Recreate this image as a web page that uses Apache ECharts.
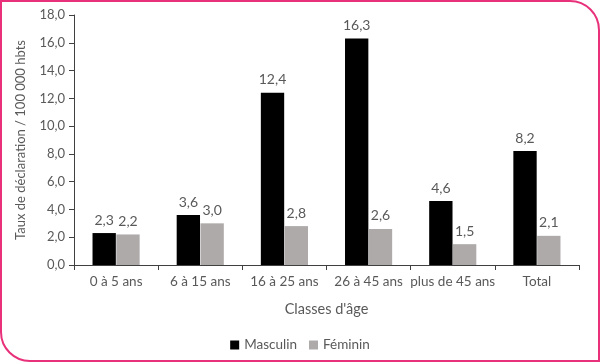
<!DOCTYPE html>
<html><head><meta charset="utf-8">
<script src="https://cdn.jsdelivr.net/npm/echarts@6/dist/echarts.min.js"></script>
<style>
html,body{margin:0;padding:0;background:#fff;}
#frame{position:absolute;left:0;top:0;width:596px;height:358px;border:2px solid #e8317a;border-radius:0 30px 0 30px;}
#c{position:absolute;left:0;top:0;width:600px;height:362px;}
</style></head>
<body>
<div id="frame"></div>
<div id="c"></div>
<script>
const categories = ["0 à 5 ans","6 à 15 ans","16 à 25 ans","26 à 45 ans","plus de 45 ans","Total"];
const masculin = [2.3,3.6,12.4,16.3,4.6,8.2];
const feminin = [2.2,3.0,2.8,2.6,1.5,2.1];
const fmt = v => v.toFixed(1).replace('.', ',');
const chart = echarts.init(document.getElementById('c'));
const txt = '#595959';
const font = 'Lato';
chart.setOption({
  animation:false,
  textStyle:{fontFamily:font},
  grid:{left:74,right:21,top:15,bottom:97},
  legend:{bottom:5,left:'center',itemWidth:9,itemHeight:9,itemGap:12,
    textStyle:{color:txt,fontSize:13.5,fontFamily:font},icon:'rect',
    data:['Masculin','Féminin']},
  xAxis:{type:'category',data:categories,
    name:"Classes d'âge",nameLocation:'middle',nameGap:37,
    nameTextStyle:{color:txt,fontSize:14.5,fontFamily:font},
    axisLine:{lineStyle:{color:'#404040',width:1}},
    axisTick:{show:true,length:5,lineStyle:{color:'#404040'}},
    axisLabel:{color:txt,fontSize:13.5,fontFamily:font,margin:10,interval:0}},
  yAxis:{type:'value',min:0,max:18,interval:2,
    name:'Taux de déclaration / 100 000 hbts',nameLocation:'middle',nameGap:47,
    nameTextStyle:{color:txt,fontSize:13,fontFamily:font},
    axisLine:{show:true,lineStyle:{color:'#404040',width:1}},
    axisTick:{show:true,length:5,lineStyle:{color:'#404040'}},
    splitLine:{show:false},
    axisLabel:{color:txt,fontSize:13,fontFamily:font,margin:9,formatter:v=>fmt(v)}},
  series:[
    {name:'Masculin',type:'bar',data:masculin,barGap:'2%',barCategoryGap:'44%',
     itemStyle:{color:'#000000'},
     label:{show:true,position:'top',distance:6,color:txt,fontSize:14,fontFamily:font,formatter:p=>fmt(p.value)}},
    {name:'Féminin',type:'bar',data:feminin,
     itemStyle:{color:'#aeaaaa'},
     label:{show:true,position:'top',distance:6,color:txt,fontSize:14,fontFamily:font,formatter:p=>fmt(p.value)}}
  ]
});
</script>
</body></html>
